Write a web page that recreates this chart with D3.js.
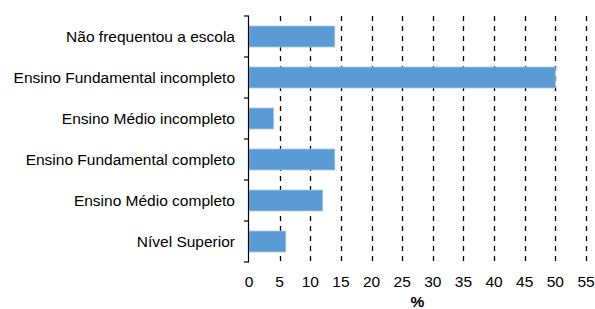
<!DOCTYPE html>
<html>
<head>
<meta charset="utf-8">
<script src="https://cdn.jsdelivr.net/npm/d3@7"></script>
<style>
  body { margin: 0; background: #fff; }
  text { font-family: "Liberation Sans", Arial, sans-serif; fill: #000; }
</style>
</head>
<body>
<script>
// categories, top to bottom
const categories = [
    "Não frequentou a escola",
    "Ensino Fundamental incompleto",
    "Ensino Médio incompleto",
    "Ensino Fundamental completo",
    "Ensino Médio completo",
    "Nível Superior"
];
// percentage values
const values = [14, 50, 4, 14, 12, 6];
const xTicks = [0, 5, 10, 15, 20, 25, 30, 35, 40, 45, 50, 55];

const width = 595, height = 309;
const plotLeft = 249, plotRight = 586, plotTop = 16, plotBottom = 262;

const x = d3.scaleLinear().domain([0, 55]).range([plotLeft, plotRight]);
const y = d3.scaleBand().domain(categories).range([plotTop, plotBottom]).paddingInner(0.49).paddingOuter(0.245);

const svg = d3.select("body").append("svg")
    .attr("width", width)
    .attr("height", height);

// dashed gridlines
svg.append("g")
    .selectAll("line")
    .data(xTicks.filter(d => d > 0))
    .enter()
    .append("line")
    .attr("x1", d => Math.round(x(d)) + 0.5)
    .attr("x2", d => Math.round(x(d)) + 0.5)
    .attr("y1", plotTop)
    .attr("y2", plotBottom)
    .attr("stroke", "#000")
    .attr("stroke-width", 1.3)
    .attr("stroke-dasharray", "5,5");

// bars
svg.append("g")
    .selectAll("rect")
    .data(values)
    .enter()
    .append("rect")
    .attr("x", x(0))
    .attr("y", (d, i) => y(categories[i]))
    .attr("width", d => x(d) - x(0))
    .attr("height", y.bandwidth())
    .attr("fill", "#5B9BD5")
    .attr("stroke", "#9DC3E6")
    .attr("stroke-width", 0.8);

// y axis with ticks on band boundaries
const yAxis = svg.append("g");
yAxis.append("line")
    .attr("x1", plotLeft - 0.5).attr("x2", plotLeft - 0.5)
    .attr("y1", plotTop).attr("y2", plotBottom)
    .attr("stroke", "#000").attr("stroke-width", 1.2);
yAxis.selectAll("line.tick")
    .data(d3.range(categories.length + 1))
    .enter()
    .append("line")
    .attr("class", "tick")
    .attr("x1", plotLeft - 5).attr("x2", plotLeft)
    .attr("y1", i => plotTop + i * (plotBottom - plotTop) / categories.length)
    .attr("y2", i => plotTop + i * (plotBottom - plotTop) / categories.length)
    .attr("stroke", "#000").attr("stroke-width", 1.2);

yAxis.selectAll("text")
    .data(categories)
    .enter()
    .append("text")
    .attr("x", 235)
    .attr("y", d => y(d) + y.bandwidth() / 2)
    .attr("dy", ".35em")
    .attr("text-anchor", "end")
    .attr("font-size", 15.5)
    .text(d => d);

// x tick labels (no axis line)
svg.append("g")
    .selectAll("text")
    .data(xTicks)
    .enter()
    .append("text")
    .attr("x", d => x(d))
    .attr("y", 282)
    .attr("dy", ".35em")
    .attr("text-anchor", "middle")
    .attr("font-size", 15.5)
    .text(d => d);

svg.append("text")
    .attr("x", (plotLeft + plotRight) / 2)
    .attr("y", 307)
    .attr("text-anchor", "middle")
    .attr("font-size", 15.5)
    .attr("font-weight", "bold")
    .text("%");
</script>
</body>
</html>
